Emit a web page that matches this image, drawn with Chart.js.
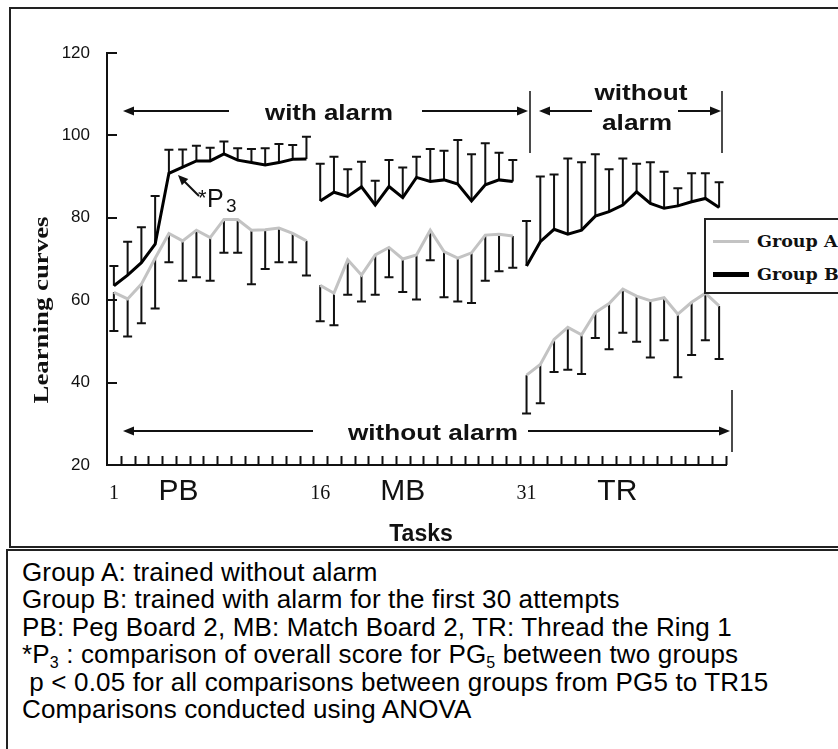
<!DOCTYPE html>
<html>
<head>
<meta charset="utf-8">
<script src="https://cdn.jsdelivr.net/npm/chart.js@4.4.0/dist/chart.umd.min.js"></script>
<style>
  html, body { margin: 0; padding: 0; background: #fff; overflow: hidden; }
  body { width: 838px; height: 749px; position: relative; }
  #chartBox { position: absolute; left: 9px; top: 7px; width: 900px; height: 541px; border: 2px solid #222; box-sizing: border-box; }
  #noteBox { position: absolute; left: 6px; top: 549px; width: 900px; height: 260px; border: 2px solid #222; box-sizing: border-box; }
  #c { position: absolute; left: 0; top: 0; }
  #legend { position: absolute; left: 704px; top: 218px; width: 200px; height: 76px; border: 2px solid #222; background: #fff; box-sizing: border-box;
            font: bold 17.5px "DejaVu Serif", serif; color: #111; }
  #legend .row { position: absolute; left: 0; height: 22px; line-height: 22px; }
  #legend .swatch { position: absolute; left: 7px; width: 36px; }
  #legend .lab { position: absolute; left: 51px; white-space: nowrap; }
  #notes { position: absolute; left: 22px; top: 559px; font: 26px "Liberation Sans", Arial, sans-serif; letter-spacing: 0.15px; line-height: 27.4px; color: #000; white-space: nowrap; }
  #notes sub { font-size: 16px; vertical-align: -5px; line-height: 0; }
</style>
</head>
<body>
<div id="chartBox"></div>
<div id="noteBox"></div>
<canvas id="c" width="838" height="548"></canvas>
<div id="legend">
  <div class="row" style="top:10px"><div class="swatch" style="top:10px;height:3px;background:#c3c3c3"></div><div class="lab">Group A</div></div>
  <div class="row" style="top:43px"><div class="swatch" style="top:9px;height:5px;background:#000"></div><div class="lab">Group B</div></div>
</div>
<div id="notes">
  <div>Group A: trained without alarm</div>
  <div>Group B: trained with alarm for the first 30 attempts</div>
  <div>PB: Peg Board 2, MB: Match Board 2, TR: Thread the Ring 1</div>
  <div>*P<sub>3</sub> : comparison of overall score for PG<sub>5</sub> between two groups</div>
  <div>&nbsp;p &lt; 0.05 for all comparisons between groups from PG5 to TR15</div>
  <div>Comparisons conducted using ANOVA</div>
</div>
<script>
// tasks 1-15 Peg Board, 16-30 Match Board, 31-45 Thread the Ring
const tasks = ['1','2','3','4','5','6','7','8','9','10','11','12','13','14','15',
  '16','17','18','19','20','21','22','23','24','25','26','27','28','29','30',
  '31','32','33','34','35','36','37','38','39','40','41','42','43','44','45'];
const xTickLabels = ['1', '16', '31'];
const yTicks = [20, 40, 60, 80, 100, 120];
const sections = ['PB', 'MB', 'TR'];
const lastTaskOfBoard = ['15', '30'];

// Group A mean and lower end of its error bar
const groupA = [61.9, 60.3, 63.9, 70.2, 76.2, 74.4, 77.0, 75.2, 79.6, 79.6, 77.0, 77.1, 77.5, 76.2, 74.4,
  63.6, 61.7, 69.8, 66.1, 71.0, 72.8, 70.0, 71.0, 77.0, 71.8, 70.2, 71.5, 75.8, 76.0, 75.6,
  41.8, 44.4, 50.5, 53.4, 51.6, 57.0, 59.2, 62.7, 61.0, 59.9, 60.6, 56.6, 59.5, 61.7, 58.6];
const groupALow = [52.5, 51.2, 54.4, 58.0, 69.2, 64.7, 65.6, 64.7, 71.5, 71.5, 63.9, 67.6, 69.2, 69.2, 66.0,
  54.9, 53.9, 61.3, 59.7, 61.3, 65.6, 62.0, 60.2, 69.7, 60.7, 59.7, 59.3, 64.7, 67.0, 67.9,
  32.5, 35.0, 42.6, 43.1, 42.1, 50.8, 48.1, 52.1, 49.9, 46.1, 50.3, 41.3, 46.7, 50.3, 45.7];

// Group B mean and upper end of its error bar
const groupB = [63.5, 66.1, 69.1, 73.6, 90.8, 92.3, 93.8, 93.8, 95.5, 94.0, 93.4, 92.8, 93.4, 94.2, 94.3,
  84.1, 86.2, 85.2, 87.5, 83.1, 87.6, 84.9, 89.8, 88.8, 89.2, 88.2, 84.1, 88.0, 89.2, 88.8,
  68.3, 74.2, 77.2, 76.0, 77.0, 80.4, 81.5, 83.1, 86.3, 83.5, 82.3, 82.9, 83.9, 84.7, 82.5];
const groupBHigh = [68.3, 74.2, 77.7, 85.3, 96.5, 96.6, 97.5, 97.0, 98.5, 96.9, 96.7, 96.9, 97.9, 97.7, 99.7,
  93.1, 94.8, 91.8, 93.6, 89.0, 94.0, 92.2, 94.8, 96.7, 96.3, 98.9, 95.4, 98.1, 95.8, 94.0,
  79.2, 90.0, 90.5, 94.4, 93.5, 95.4, 91.8, 94.4, 93.1, 93.5, 91.2, 87.2, 90.8, 90.8, 88.6];

// no line between the last task of one board and the first of the next
const boardGap = ctx => lastTaskOfBoard.includes(tasks[ctx.p0DataIndex]) ? 'rgba(0,0,0,0)' : undefined;

function arrow(ctx, x1, y1, x2, y2, head) {
  const a = Math.atan2(y2 - y1, x2 - x1);
  const len = head || 11;
  ctx.beginPath();
  ctx.moveTo(x1, y1);
  ctx.lineTo(x2 - Math.cos(a) * (len - 3), y2 - Math.sin(a) * (len - 3));
  ctx.stroke();
  ctx.beginPath();
  ctx.moveTo(x2, y2);
  ctx.lineTo(x2 - Math.cos(a) * len + Math.sin(a) * 4.5, y2 - Math.sin(a) * len - Math.cos(a) * 4.5);
  ctx.lineTo(x2 - Math.cos(a) * len - Math.sin(a) * 4.5, y2 - Math.sin(a) * len + Math.cos(a) * 4.5);
  ctx.closePath();
  ctx.fill();
}

function fitText(ctx, text, cx, baseline, width, font) {
  ctx.font = font;
  const w = ctx.measureText(text).width;
  ctx.save();
  ctx.translate(cx, baseline);
  ctx.scale(width / w, 1);
  ctx.textAlign = 'center';
  ctx.textBaseline = 'alphabetic';
  ctx.fillText(text, 0, 0);
  ctx.restore();
}

const errorBars = {
  id: 'errorBars',
  beforeDatasetsDraw(chart) {
    const { ctx, scales: { y } } = chart;
    const ends = [groupALow, groupBHigh];
    ctx.save();
    ctx.strokeStyle = '#111';
    ctx.lineWidth = 2;
    chart.data.datasets.forEach((ds, d) => {
      chart.getDatasetMeta(d).data.forEach((pt, i) => {
        const ye = y.getPixelForValue(ends[d][i]);
        ctx.beginPath();
        ctx.moveTo(pt.x, pt.y);
        ctx.lineTo(pt.x, ye);
        ctx.moveTo(pt.x - 4.5, ye);
        ctx.lineTo(pt.x + 4.5, ye);
        ctx.stroke();
      });
    });
    ctx.restore();
  }
};

const decorations = {
  id: 'decorations',
  afterDraw(chart) {
    const { ctx, scales: { x, y }, chartArea } = chart;
    ctx.save();
    ctx.strokeStyle = '#111';
    ctx.fillStyle = '#111';
    ctx.lineWidth = 2;
    // inward tick marks
    ctx.beginPath();
    yTicks.slice(1).forEach(v => {
      const py = Math.round(y.getPixelForValue(v));
      ctx.moveTo(chartArea.left, py);
      ctx.lineTo(chartArea.left + 10, py);
    });
    tasks.forEach((t, i) => {
      const px = Math.round(x.getPixelForValue(i + 0.5)) + 0.5;
      ctx.moveTo(px, chartArea.bottom);
      ctx.lineTo(px, chartArea.bottom - 9);
    });
    ctx.stroke();

    // board names under the axis
    ctx.textBaseline = 'alphabetic';
    ctx.textAlign = 'center';
    ctx.font = '30px "Liberation Sans", Arial, sans-serif';
    const sectionAt = [5.7, 22.0, 37.6];
    sections.forEach((s, i) => ctx.fillText(s, x.getPixelForValue(sectionAt[i] - 1), 500));

    ctx.font = 'bold 23px "Liberation Sans", Arial, sans-serif';
    ctx.fillText('Tasks', 421, 541);

    // y axis title
    ctx.save();
    ctx.translate(48, 310);
    ctx.rotate(-Math.PI / 2);
    fitText(ctx, 'Learning curves', 0, 0, 187, 'bold 22px "Liberation Serif", "Times New Roman", serif');
    ctx.restore();

    // alarm phases
    ctx.lineWidth = 2;
    const bold = 'bold 22px "Liberation Sans", Arial, sans-serif';
    fitText(ctx, 'with alarm', 329, 120, 128, bold);
    arrow(ctx, 229, 111, 123, 111);
    arrow(ctx, 422, 111, 528, 111);
    fitText(ctx, 'without', 641, 100, 93, bold);
    fitText(ctx, 'alarm', 637, 130, 70, bold);
    arrow(ctx, 592, 111, 539, 111);
    arrow(ctx, 678, 111, 721, 111);
    fitText(ctx, 'without alarm', 433, 440, 170, bold);
    arrow(ctx, 313, 431, 123, 431);
    arrow(ctx, 528, 431, 730, 431);
    ctx.lineWidth = 1.5;
    ctx.beginPath();
    ctx.moveTo(530, 91); ctx.lineTo(530, 153);
    ctx.moveTo(722, 91); ctx.lineTo(722, 153);
    ctx.moveTo(732, 390); ctx.lineTo(732, 452);
    ctx.stroke();

    // *P3 note
    ctx.lineWidth = 2;
    arrow(ctx, 199, 196, 178, 175, 10);
    ctx.textAlign = 'left';
    ctx.font = '22px "Liberation Sans", Arial, sans-serif';
    ctx.fillText('*', 198, 205);
    ctx.font = '25px "Liberation Sans", Arial, sans-serif';
    ctx.fillText('P', 207, 207);
    ctx.font = '19px "Liberation Sans", Arial, sans-serif';
    ctx.fillText('3', 226, 212);
    ctx.restore();
  }
};

new Chart(document.getElementById('c'), {
  type: 'line',
  data: {
    labels: tasks,
    datasets: [
      { label: 'Group A', data: groupA, borderColor: '#c3c3c3', borderWidth: 3, pointRadius: 0, tension: 0, segment: { borderColor: boardGap } },
      { label: 'Group B', data: groupB, borderColor: '#000', borderWidth: 3, pointRadius: 0, tension: 0, segment: { borderColor: boardGap } }
    ]
  },
  options: {
    responsive: false,
    animation: false,
    devicePixelRatio: 1,
    layout: { padding: { top: 53, right: 112, bottom: 0, left: 0 } },
    plugins: { legend: { display: false }, tooltip: { enabled: false } },
    scales: {
      x: {
        type: 'category',
        offset: true,
        grid: { display: true, drawOnChartArea: false, drawTicks: false, offset: true },
        border: { display: true, color: '#111', width: 2 },
        ticks: {
          autoSkip: false, maxRotation: 0, padding: 17, color: '#111',
          font: { family: '"Liberation Serif", "Times New Roman", serif', size: 20 },
          callback: (v, i) => xTickLabels.includes(tasks[i]) ? tasks[i] : ''
        },
        afterFit: s => { s.height = 83; }
      },
      y: {
        min: 20, max: 120,
        grid: { display: true, drawOnChartArea: false, drawTicks: false },
        border: { display: true, color: '#111', width: 2 },
        ticks: { padding: 17, color: '#111', font: { family: '"Liberation Sans", Arial, sans-serif', size: 17 } },
        afterBuildTicks: s => { s.ticks = yTicks.map(v => ({ value: v })); },
        afterFit: s => { s.width = 107; }
      }
    }
  },
  plugins: [errorBars, decorations]
});
</script>
</body>
</html>
